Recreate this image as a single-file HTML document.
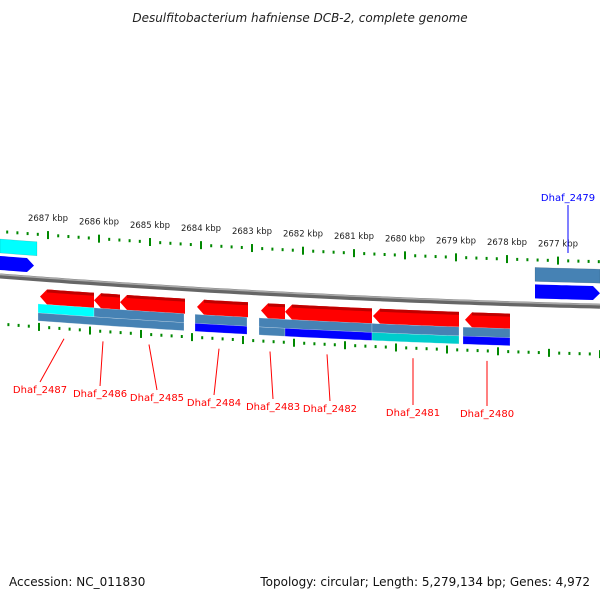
<!DOCTYPE html>
<html><head><meta charset="utf-8"><style>
body{margin:0;background:#fff}
svg{display:block;font-family:"DejaVu Sans","Liberation Sans",sans-serif}
</style></head><body>
<svg id="map" width="600" height="600" viewBox="0 0 600 600">
<text x="300" y="22" text-anchor="middle" font-size="12" font-style="italic" fill="#222">Desulfitobacterium hafniense DCB-2, complete genome</text>
<text x="9" y="586" font-size="12" fill="#111">Accession: NC_011830</text>
<text x="590" y="586" text-anchor="end" font-size="12" fill="#111">Topology: circular; Length: 5,279,134 bp; Genes: 4,972</text>
<g id="g"></g>
</svg>
<script>
// data
const tickKbp = [2687,2686,2685,2684,2683,2682,2681,2680,2679,2678,2677];
const lowerGeneStart = [2687.157,2686.098,2685.588,2684.078,2682.824,2682.353,2680.627,2678.824];
const lowerGeneEnd   = [2686.098,2685.588,2684.314,2683.078,2682.353,2680.647,2678.941,2677.941];
const lowerGeneNames = ['Dhaf_2487','Dhaf_2486','Dhaf_2485','Dhaf_2484','Dhaf_2483','Dhaf_2482','Dhaf_2481','Dhaf_2480'];
const leaderKbp = [2686.686,2685.922,2685.02,2683.647,2682.647,2681.529,2679.843,2678.392];
const labelKbp = [2687.157,2685.98,2684.863,2683.745,2682.588,2681.471,2679.843,2678.392];
const labelY = [393,397,401,406,410,412,416,417];
const rowAStart = [2687.196,2686.098,2684.118,2682.863,2680.647,2678.863];
const rowAEnd   = [2686.098,2684.333,2683.098,2680.647,2678.941,2677.941];
const rowAColor = ['#00ffff','#4682b4','#4682b4','#4682b4','#4682b4','#4682b4'];
const rowBStart = [2687.196,2684.118,2682.863,2682.353,2680.647,2678.863];
const rowBEnd   = [2684.333,2683.098,2682.353,2680.647,2678.941,2677.941];
const rowBColor = ['#4682b4','#0000ff','#4682b4','#0000ff','#00cccc','#0000ff'];
const upperRow1Start=[2687.941,2677.451], upperRow1End=[2687.216,2676.176], upperRow1Color=['#00ffff','#4682b4'];
const upperRow2Start=[2687.941,2677.451], upperRow2End=[2687.275,2676.176];

const NS='http://www.w3.org/2000/svg';
const g=document.getElementById('g');
const xScale=k=>48+(2687-k)*51;
const f=x=>0.0767*x-4.4e-5*x*x;
function mk(tag,attrs){const e=document.createElementNS(NS,tag);for(const k in attrs)e.setAttribute(k,attrs[k]);g.appendChild(e);return e;}
function band(x1,x2,base,h,headL,headR){
  const a=Math.min(x1,x2),b=Math.max(x1,x2);const pts=[];
  const n=Math.max(2,Math.ceil((b-a)/6));
  const s=headL?a+7:a,e=headR?b-7:b;
  if(headL)pts.push([a,base+f(a)+h/2]);
  for(let i=0;i<=n;i++){const x=s+(e-s)*i/n;pts.push([x,base+f(x)]);}
  if(headR)pts.push([b,base+f(b)+h/2]);
  for(let i=n;i>=0;i--){const x=s+(e-s)*i/n;pts.push([x,base+f(x)+h]);}
  return pts.map(p=>p[0].toFixed(1)+','+p[1].toFixed(1)).join(' ');
}
let d='';for(let x=0;x<=600;x+=10)d+=(x?'L':'M')+x+','+(276+f(x)).toFixed(1);
const bb=mk('path',{d:d,stroke:'#666','stroke-width':5,fill:'none'});


const bb2=mk('path',{d:d,stroke:'#aaa','stroke-width':1.5,fill:'none',transform:'translate(0,-1.5)'});


function ticks(base,offset,name){
  for(let i=-2;i<=tickKbp.length;i++){
    for(let m=0;m<5;m++){
      const x=xScale(2687-i)+offset+m*10.2;
      if(x<0||x>600)continue;
      const y=base+f(x);
      const t=mk('line',{x1:x,x2:x,y1:m?y-1.5:y-4,y2:m?y+1.5:y+4,stroke:'#080','stroke-width':2});
      
      
    }
  }
}
ticks(231.5,0,'upper');
ticks(324,-9,'lower');
tickKbp.forEach(k=>{
  const x=xScale(k);
  const t=mk('text',{x:x,y:(231.5+f(x)-14).toFixed(1),'text-anchor':'middle','font-size':8.5,fill:'#222'});
  t.textContent=k+' kbp';
  
  
});
upperRow1Start.forEach((s,i)=>{
  const p=mk('polygon',{points:band(xScale(s),xScale(upperRow1End[i]),239,14,false,false),fill:upperRow1Color[i],stroke:'rgba(0,0,0,0.2)','stroke-width':0.5});
  
  
});
upperRow2Start.forEach((s,i)=>{
  const p=mk('polygon',{points:band(xScale(s),xScale(upperRow2End[i]),256,14,false,true),fill:'#0000ff'});
  
  
});
lowerGeneStart.forEach((s,i)=>{
  const x1=xScale(s),x2=xScale(lowerGeneEnd[i]);
  const p=mk('polygon',{points:band(x1,x2,286,15,true,false),fill:'#ff0000'});
  
  
  const p2=mk('polygon',{points:band(x1+7,x2,286,3,false,false),fill:'#c00000'});
  
  
});
rowAStart.forEach((s,i)=>{
  const p=mk('polygon',{points:band(xScale(s),xScale(rowAEnd[i]),301,9,false,false),fill:rowAColor[i],stroke:'rgba(255,255,255,0.4)','stroke-width':0.5});
  
  
});
rowBStart.forEach((s,i)=>{
  const p=mk('polygon',{points:band(xScale(s),xScale(rowBEnd[i]),310,8,false,false),fill:rowBColor[i],stroke:'rgba(255,255,255,0.4)','stroke-width':0.5});
  
  
});
lowerGeneNames.forEach((n,i)=>{
  const gx=xScale(leaderKbp[i]);
  const lx=xScale(labelKbp[i]);
  const l=mk('line',{x1:gx,y1:(334+f(gx)).toFixed(1),x2:lx,y2:labelY[i]-11,stroke:'#f00','stroke-width':1});
  
  
  const t=mk('text',{x:lx,y:labelY[i],'text-anchor':'middle','font-size':10,fill:'#f00'});
  t.textContent=n;
  
  
});
const bl=mk('line',{x1:568,y1:205,x2:568,y2:253,stroke:'#00f','stroke-width':1});


const bt=mk('text',{x:568,y:201,'text-anchor':'middle','font-size':10,fill:'#00f'});
bt.textContent='Dhaf_2479';


</script>
</body></html>
